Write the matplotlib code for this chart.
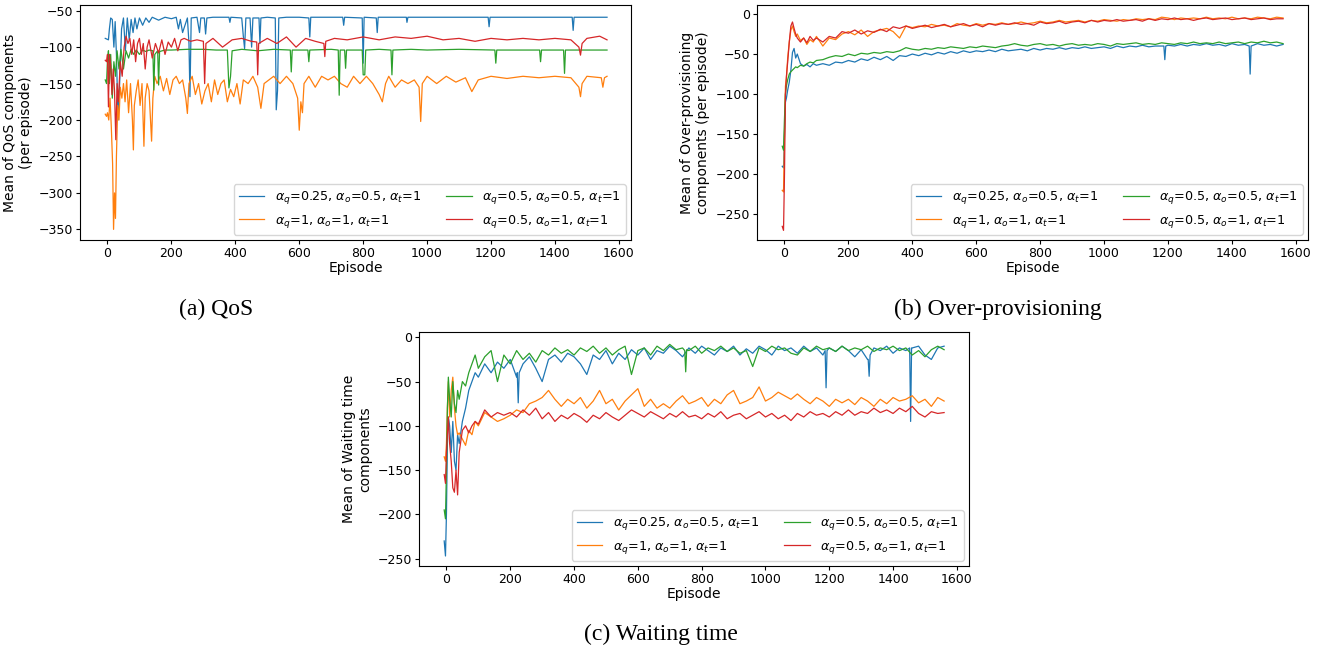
import matplotlib
matplotlib.use('Agg')
import matplotlib.pyplot as plt
import numpy as np

# legend labels, in plotting order (C0, C1, C2, C3)
labels = [r'$\alpha_q$=0.25, $\alpha_o$=0.5, $\alpha_t$=1',
          r'$\alpha_q$=1, $\alpha_o$=1, $\alpha_t$=1',
          r'$\alpha_q$=0.5, $\alpha_o$=0.5, $\alpha_t$=1',
          r'$\alpha_q$=0.5, $\alpha_o$=1, $\alpha_t$=1']

# ---------------- (a) QoS : flat lines with dips, stored as (episode, value)
qos_blue_x = [-7, 3, 6, 10, 15, 20, 24, 28, 33, 38, 44, 50, 56, 62, 68, 74, 80, 86, 92, 100,
              110, 120, 130, 140, 160, 180, 200, 215, 222, 228, 235, 250, 255, 258, 262, 280,
              288, 292, 303, 307, 311, 330, 380, 383, 386, 420, 425, 429, 433, 446, 451, 455,
              474, 477, 480, 500, 525, 528, 532, 536, 560, 600, 630, 633, 636, 700, 736, 739,
              742, 797, 800, 803, 841, 844, 847, 900, 935, 937, 940, 1000, 1100, 1191, 1194,
              1197, 1300, 1454, 1457, 1460, 1500, 1563]
qos_blue = [-88, -90, -75, -60, -62, -100, -65, -110, -200, -150, -75, -60, -105, -60, -90, -62,
            -80, -60, -75, -60, -70, -60, -66, -59, -63, -59, -61, -59, -75, -62, -80, -60, -95,
            -168, -60, -59, -80, -60, -60, -82, -60, -59, -59, -66, -59, -60, -85, -102, -60,
            -60, -100, -60, -60, -95, -60, -59, -60, -186, -160, -60, -59, -59, -60, -86, -59,
            -59, -59, -70, -59, -60, -122, -59, -60, -80, -59, -59, -59, -66, -59, -59, -59,
            -59, -72, -59, -59, -59, -77, -59, -59, -59]

qos_orange_x = [-7, -3, 0, 4, 8, 12, 16, 19, 22, 25, 28, 32, 36, 40, 45, 50, 55, 60, 66, 72, 78,
                81, 84, 90, 96, 102, 108, 114, 118, 124, 130, 138, 142, 148, 155, 165, 175, 185,
                195, 205, 215, 225, 235, 245, 250, 255, 265, 275, 285, 295, 305, 315, 325, 335,
                345, 355, 365, 375, 385, 395, 405, 415, 425, 440, 455, 470, 480, 490, 505, 520,
                540, 560, 580, 595, 600, 605, 610, 615, 630, 650, 670, 690, 710, 730, 750, 770,
                790, 810, 830, 850, 860, 870, 880, 900, 920, 940, 960, 975, 980, 985, 1000, 1030,
                1060, 1090, 1120, 1140, 1160, 1200, 1250, 1300, 1350, 1400, 1450, 1475, 1480,
                1485, 1500, 1545, 1550, 1555, 1563]
qos_orange = [-192, -195, -190, -200, -170, -210, -260, -350, -300, -335, -250, -180, -200, -155,
              -170, -150, -175, -145, -190, -150, -200, -241, -180, -160, -145, -180, -150, -236,
              -170, -150, -160, -229, -170, -140, -150, -140, -160, -143, -165, -145, -140, -150,
              -145, -170, -191, -150, -140, -165, -150, -178, -160, -150, -175, -145, -165, -150,
              -145, -175, -158, -168, -150, -178, -145, -150, -140, -155, -184, -150, -145, -140,
              -150, -140, -150, -170, -214, -175, -190, -150, -140, -155, -140, -145, -140, -150,
              -155, -140, -150, -140, -150, -165, -175, -150, -140, -155, -145, -150, -145, -155,
              -202, -150, -140, -150, -140, -148, -142, -161, -145, -140, -143, -140, -142, -140,
              -142, -155, -168, -150, -140, -142, -155, -142, -140]

qos_green_x = [-7, -3, 0, 3, 6, 10, 15, 20, 25, 30, 36, 42, 50, 58, 66, 74, 82, 90, 100, 110, 120,
               130, 142, 145, 148, 157, 160, 163, 180, 200, 250, 300, 340, 375, 380, 385, 390,
               420, 470, 520, 572, 575, 578, 627, 630, 633, 700, 722, 725, 728, 742, 745, 748,
               797, 800, 805, 808, 850, 887, 890, 893, 950, 1000, 1100, 1212, 1215, 1218, 1300,
               1352, 1355, 1358, 1427, 1430, 1433, 1500, 1563]
qos_green = [-145, -150, -118, -105, -150, -110, -170, -120, -140, -105, -130, -103, -130, -105,
             -115, -103, -110, -104, -110, -104, -106, -104, -105, -159, -110, -105, -152, -106,
             -104, -104, -103, -103, -104, -104, -156, -140, -105, -103, -105, -103, -104, -134,
             -104, -104, -120, -104, -103, -104, -166, -104, -104, -129, -104, -104, -138, -138,
             -104, -103, -104, -138, -104, -103, -104, -103, -104, -122, -104, -104, -104, -120,
             -104, -104, -136, -104, -104, -104]

qos_red_x = [-7, -3, 0, 3, 6, 10, 14, 18, 22, 26, 30, 34, 40, 46, 52, 58, 64, 70, 76, 82, 88, 94,
             100, 106, 112, 118, 124, 130, 140, 150, 160, 170, 180, 190, 200, 210, 220, 230, 240,
             260, 280, 300, 304, 308, 330, 360, 390, 420, 450, 467, 470, 473, 500, 530, 560, 590,
             620, 650, 677, 680, 683, 710, 750, 800, 850, 900, 950, 1000, 1050, 1100, 1150, 1200,
             1250, 1300, 1350, 1400, 1450, 1475, 1480, 1485, 1500, 1540, 1563]
qos_red = [-118, -120, -110, -182, -110, -125, -165, -130, -160, -227, -150, -175, -120, -140,
           -100, -85, -95, -88, -110, -90, -120, -95, -88, -110, -95, -130, -100, -90, -115, -95,
           -108, -90, -110, -93, -100, -88, -105, -90, -88, -92, -90, -92, -150, -95, -88, -100,
           -90, -88, -92, -93, -138, -95, -88, -95, -86, -100, -88, -92, -95, -113, -92, -88, -90,
           -86, -90, -86, -88, -85, -90, -88, -92, -88, -90, -88, -90, -88, -90, -100, -111, -95,
           -88, -85, -90]

# ---------------- (b), (c): sampled on a common episode grid
episodes_early = [-7, -3, 0, 3, 6, 10, 15, 20, 25, 30, 35, 40, 50, 60, 70, 80, 90, 100]
episodes_late = list(range(120, 1561, 20))

op_blue = [-190, -192, -150, -110, -105, -95, -85, -70, -48, -43, -55, -50, -62, -65, -63, -66, -62, -64,
           -62, -64, -60, -61, -58, -60, -56, -58, -54, -57,
           -53, -58, -52, -53, -50, -52, -49, -51, -48, -50,
           -47, -49, -46, -48, -46, -47, -45, -47, -44, -46,
           -45, -44, -46, -43, -45, -43, -44, -42, -44, -42,
           -43, -41, -43, -42, -41, -43, -40, -42, -40, -41,
           -39, -41, -40, -40, -39, -40, -38, -40, -38, -39,
           -37, -39, -38, -40, -37, -39, -38, -40, -37, -39,
           -38, -40, -38]
op_blue_spike_x = [1187, 1190, 1193, 1454, 1457, 1460]
op_blue_spike = [-40, -57, -40, -40, -75, -40]

op_orange = [-220, -222, -150, -90, -80, -55, -35, -20, -15, -22, -28, -25, -33, -30, -38, -32, -35, -28,
             -40, -30, -32, -25, -22, -26, -20, -28, -22, -20,
             -18, -22, -30, -15, -17, -15, -16, -13, -15, -14,
             -16, -12, -14, -15, -12, -14, -12, -13, -11, -13,
             -12, -10, -12, -11, -9, -11, -10, -8, -10, -9,
             -8, -10, -8, -9, -7, -8, -9, -7, -8, -6,
             -7, -6, -7, -4, -5, -7, -5, -6, -5, -6,
             -4, -6, -5, -6, -4, -6, -5, -6, -4, -5,
             -6, -4, -5]

op_green = [-165, -170, -130, -100, -90, -82, -75, -72, -70, -68, -66, -67, -64, -65, -62, -60, -61, -58,
            -57, -54, -52, -53, -50, -52, -49, -50, -48, -49,
            -47, -48, -46, -42, -44, -45, -43, -44, -42, -43,
            -41, -42, -43, -41, -42, -40, -41, -42, -40, -39,
            -37, -39, -40, -38, -37, -39, -38, -40, -38, -37,
            -39, -38, -39, -37, -38, -40, -37, -38, -37, -36,
            -38, -37, -38, -36, -37, -38, -36, -37, -35, -37,
            -36, -37, -35, -37, -36, -35, -37, -35, -36, -34,
            -36, -35, -37]

op_red = [-265, -270, -200, -100, -78, -60, -35, -15, -10, -18, -25, -30, -35, -30, -36, -28, -33, -30,
          -35, -28, -30, -22, -24, -20, -25, -21, -23, -19,
          -22, -16, -18, -15, -18, -16, -14, -17, -15, -13,
          -16, -14, -12, -15, -13, -16, -12, -14, -12, -13,
          -11, -13, -12, -14, -10, -12, -11, -9, -12, -10,
          -9, -11, -8, -10, -8, -9, -7, -9, -8, -7,
          -9, -6, -8, -6, -7, -5, -7, -6, -8, -6,
          -5, -7, -6, -5, -7, -6, -5, -7, -6, -5,
          -7, -6, -6]

wt_blue = [-230, -247, -200, -120, -90, -100, -130, -95, -140, -150, -110, -120, -95, -80, -60, -50, -40, -45,
           -30, -40, -28, -35, -25, -45, -30, -22, -35, -50,
           -25, -20, -28, -18, -22, -30, -42, -20, -25, -15,
           -30, -18, -25, -14, -20, -12, -25, -15, -18, -10,
           -15, -22, -12, -18, -10, -15, -20, -12, -16, -10,
           -20, -13, -18, -10, -14, -20, -10, -15, -12, -18,
           -10, -16, -12, -20, -12, -16, -10, -15, -22, -14,
           -25, -12, -15, -10, -18, -12, -15, -12, -10, -20,
           -25, -12, -10]
wt_blue_spike_x = [222, 225, 228, 1187, 1190, 1193, 1322, 1325, 1328, 1452, 1455, 1458]
wt_blue_spike = [-40, -74, -40, -15, -57, -15, -25, -44, -20, -12, -95, -12]

wt_orange = [-135, -140, -120, -80, -50, -90, -60, -45, -80, -100, -110, -108, -115, -122, -105, -110, -95, -100,
             -85, -90, -95, -92, -88, -82, -85, -75, -72, -68,
             -60, -70, -78, -70, -75, -68, -80, -72, -60, -75,
             -70, -82, -72, -65, -58, -78, -70, -80, -75, -80,
             -72, -66, -75, -72, -68, -78, -70, -75, -65, -60,
             -75, -72, -68, -56, -72, -68, -62, -66, -70, -64,
             -70, -75, -68, -72, -78, -70, -74, -70, -76, -68,
             -72, -78, -70, -75, -68, -72, -70, -66, -74, -70,
             -78, -68, -72]

wt_green = [-195, -205, -150, -80, -45, -70, -90, -50, -75, -85, -60, -70, -50, -55, -40, -30, -20, -35,
            -22, -15, -50, -20, -30, -15, -25, -18, -28, -15,
            -20, -12, -18, -14, -20, -12, -16, -10, -18, -12,
            -20, -14, -10, -42, -15, -12, -20, -10, -15, -8,
            -14, -12, -15, -10, -18, -12, -15, -10, -16, -12,
            -18, -15, -33, -12, -16, -10, -14, -12, -18, -20,
            -12, -16, -10, -14, -12, -16, -10, -15, -12, -14,
            -10, -16, -12, -14, -10, -15, -12, -20, -15, -22,
            -14, -10, -14]
wt_green_spike_x = [747, 750, 753]
wt_green_spike = [-15, -39, -14]

wt_red = [-155, -165, -130, -110, -90, -120, -140, -170, -175, -150, -178, -130, -105, -100, -108, -100, -95, -98,
          -82, -90, -85, -88, -85, -90, -82, -88, -80, -92,
          -85, -95, -88, -92, -86, -90, -96, -88, -92, -85,
          -90, -94, -88, -82, -86, -90, -84, -88, -92, -86,
          -90, -84, -90, -88, -92, -86, -90, -84, -92, -88,
          -86, -92, -88, -84, -90, -86, -92, -88, -94, -86,
          -90, -84, -88, -86, -90, -84, -88, -82, -88, -84,
          -86, -80, -85, -82, -86, -80, -84, -78, -86, -90,
          -84, -86, -85]


def merged(vals, sx=(), sy=()):
    x = np.array(episodes_early + episodes_late + list(sx), dtype=float)
    y = np.array(list(vals) + list(sy), dtype=float)
    order = np.argsort(x, kind='stable')
    return x[order], y[order]


plt.rcParams['font.family'] = 'DejaVu Sans'
plt.rcParams['axes.unicode_minus'] = True

W, H = 1332, 651
fig = plt.figure(figsize=(W / 100, H / 100), dpi=100)


def make_axes(x0, y_top, x1, y_bot):
    return fig.add_axes([x0 / W, 1 - y_bot / H, (x1 - x0) / W, (y_bot - y_top) / H])


ax_a = make_axes(80, 5, 631, 240)
ax_b = make_axes(757, 5, 1308, 240)
ax_c = make_axes(419, 332, 969, 566)

colors = ['C0', 'C1', 'C2', 'C3']
lw = 0.9

series_a = [(qos_blue_x, qos_blue), (qos_orange_x, qos_orange),
            (qos_green_x, qos_green), (qos_red_x, qos_red)]
for (x, y), c, lab in zip(series_a, colors, labels):
    ax_a.plot(x, y, color=c, lw=lw, label=lab)

series_b = [merged(op_blue, op_blue_spike_x, op_blue_spike), merged(op_orange),
            merged(op_green), merged(op_red)]
for (x, y), c, lab in zip(series_b, colors, labels):
    ax_b.plot(x, y, color=c, lw=lw, label=lab)

series_c = [merged(wt_blue, wt_blue_spike_x, wt_blue_spike), merged(wt_orange),
            merged(wt_green, wt_green_spike_x, wt_green_spike), merged(wt_red)]
for (x, y), c, lab in zip(series_c, colors, labels):
    ax_c.plot(x, y, color=c, lw=lw, label=lab)

ax_a.set_ylim(-364.6, -42.2)
ax_b.set_ylim(-282, 11.2)
ax_c.set_ylim(-258.3, 6)

ax_a.set_ylabel('Mean of QoS components\n(per episode)', fontsize=10)
ax_b.set_ylabel('Mean of Over-provisioning\ncomponents (per episode)', fontsize=10)
ax_c.set_ylabel('Mean of Waiting time\ncomponents', fontsize=10)

for ax in (ax_a, ax_b, ax_c):
    ax.set_xlim(-86, 1638)
    ax.set_xlabel('Episode', fontsize=10, labelpad=1)
    ax.tick_params(labelsize=9, length=3, pad=2)
    ax.legend(loc='lower right', ncol=2, fontsize=9.2, borderaxespad=0.4)

serif = ['Liberation Serif', 'DejaVu Serif']
fig.text(216 / W, 1 - 309 / H, '(a) QoS', ha='center', va='center', fontsize=17, family=serif)
fig.text(998 / W, 1 - 309 / H, '(b) Over-provisioning', ha='center', va='center', fontsize=17, family=serif)
fig.text(661 / W, 1 - 634 / H, '(c) Waiting time', ha='center', va='center', fontsize=17, family=serif)

fig.savefig('out.png', dpi=100)
